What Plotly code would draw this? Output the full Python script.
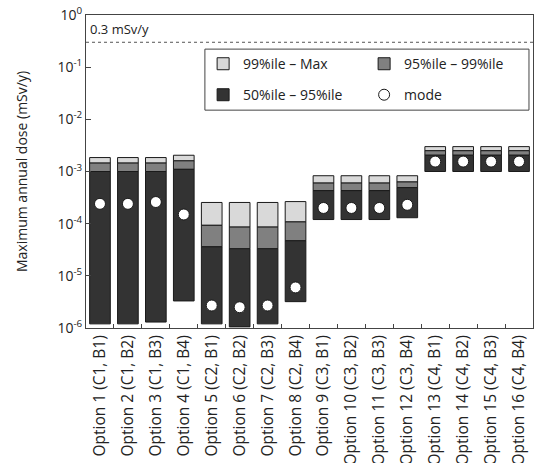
import math
import plotly.graph_objects as go

options = [f"Option {i}" for i in range(1, 17)]
scenarios = ["C1, B1", "C1, B2", "C1, B3", "C1, B4",
             "C2, B1", "C2, B2", "C2, B3", "C2, B4",
             "C3, B1", "C3, B2", "C3, B3", "C3, B4",
             "C4, B1", "C4, B2", "C4, B3", "C4, B4"]
categories = [f"{o} ({s})" for o, s in zip(options, scenarios)]

p50 = [1.2e-6, 1.2e-6, 1.3e-6, 3.3e-6,
       1.2e-6, 1.05e-6, 1.2e-6, 3.2e-6,
       1.2e-4, 1.2e-4, 1.2e-4, 1.3e-4,
       1.0e-3, 1.0e-3, 1.0e-3, 1.0e-3]
p95 = [1.0e-3, 1.0e-3, 1.0e-3, 1.1e-3,
       3.6e-5, 3.3e-5, 3.3e-5, 4.7e-5,
       4.3e-4, 4.3e-4, 4.3e-4, 4.9e-4,
       2.05e-3, 2.05e-3, 2.05e-3, 2.05e-3]
p99 = [1.45e-3, 1.45e-3, 1.45e-3, 1.6e-3,
       9.3e-5, 8.6e-5, 8.6e-5, 1.08e-4,
       6.0e-4, 6.0e-4, 6.0e-4, 6.3e-4,
       2.5e-3, 2.5e-3, 2.5e-3, 2.5e-3]
pmax = [1.85e-3, 1.85e-3, 1.85e-3, 2.05e-3,
        2.55e-4, 2.55e-4, 2.55e-4, 2.65e-4,
        8.3e-4, 8.3e-4, 8.3e-4, 8.3e-4,
        3.0e-3, 3.0e-3, 3.0e-3, 3.0e-3]
mode = [2.4e-4, 2.4e-4, 2.6e-4, 1.5e-4,
        2.7e-6, 2.5e-6, 2.7e-6, 6.0e-6,
        2.0e-4, 2.0e-4, 2.0e-4, 2.3e-4,
        1.55e-3, 1.55e-3, 1.55e-3, 1.55e-3]

limit = 0.3
limit_label = "0.3 mSv/y"
ytick_vals = [1e-6, 1e-5, 1e-4, 1e-3, 1e-2, 1e-1, 1e0]
ytick_text = ["10<sup>-6</sup>", "10<sup>-5</sup>", "10<sup>-4</sup>", "10<sup>-3</sup>",
              "10<sup>-2</sup>", "10<sup>-1</sup>", "10<sup>0</sup>"]

FONT = "Open Sans"
TXT = "#222222"
edge = dict(color="#1a1a1a", width=1)

fig = go.Figure()
fig.add_trace(go.Bar(x=categories, base=p99, y=[b - a for a, b in zip(p99, pmax)],
                     name="99%ile – Max", legend="legend",
                     marker=dict(color="#d9d9d9", line=edge)))
fig.add_trace(go.Bar(x=categories, base=p95, y=[b - a for a, b in zip(p95, p99)],
                     name="95%ile – 99%ile", legend="legend",
                     marker=dict(color="#808080", line=edge)))
fig.add_trace(go.Bar(x=categories, base=p50, y=[b - a for a, b in zip(p50, p95)],
                     name="50%ile – 95%ile", legend="legend2",
                     marker=dict(color="#333333", line=edge)))
fig.add_trace(go.Scatter(x=categories, y=mode, mode="markers", name="mode", legend="legend2",
                         marker=dict(symbol="circle", size=11, color="white",
                                     line=dict(color="#1a1a1a", width=1))))

# 0.3 mSv/y reference line
fig.add_shape(type="line", xref="paper", yref="y", x0=0, x1=1, y0=limit, y1=limit,
              line=dict(color="#555555", width=1, dash="dot"))
fig.add_annotation(text=limit_label, xref="paper", yref="y", x=0.005, y=math.log10(limit),
                   xanchor="left", yanchor="bottom", yshift=2, showarrow=False,
                   font=dict(family=FONT, size=13, color=TXT))
# legend frame
fig.add_shape(type="rect", xref="paper", yref="paper", x0=0.266, x1=0.991, y0=0.696, y1=0.891,
              line=dict(color="#444444", width=1), fillcolor="white", layer="above")

leg_common = dict(orientation="h", xanchor="left", yanchor="middle",
                  borderwidth=0, bgcolor="rgba(0,0,0,0)",
                  entrywidth=116, entrywidthmode="pixels",
                  font=dict(family=FONT, size=14, color=TXT))

fig.update_layout(
    width=536, height=463,
    margin=dict(l=86, r=3, t=15, b=135, autoexpand=False),
    paper_bgcolor="white", plot_bgcolor="white",
    barmode="overlay", bargap=0.26,
    font=dict(family=FONT, size=14, color=TXT),
    showlegend=True,
    legend=dict(x=0.262, y=0.843, **leg_common),
    legend2=dict(x=0.262, y=0.744, **leg_common),
    xaxis=dict(type="category", range=[-0.5, len(categories) - 0.5], tickangle=-90,
               showline=True, linecolor="#444444",
               linewidth=1, mirror=True, ticks="inside", ticklen=4, tickson="boundaries",
               tickcolor="#444444", automargin=False, showgrid=False,
               tickfont=dict(family=FONT, size=15.5, color=TXT)),
    yaxis=dict(type="log", range=[-6, 0], tickvals=ytick_vals, ticktext=ytick_text,
               showline=True, linecolor="#444444", linewidth=1, mirror=True,
               ticks="inside", ticklen=5, tickcolor="#444444", showgrid=False,
               zeroline=False, automargin=False,
               tickfont=dict(family=FONT, size=14, color=TXT),
               title=dict(text="Maximum annual dose (mSv/y)", standoff=26,
                          font=dict(family=FONT, size=14, color=TXT))),
)

fig.write_html("out.html", config={"displayModeBar": False},
               post_script="document.body.style.margin='0';")
